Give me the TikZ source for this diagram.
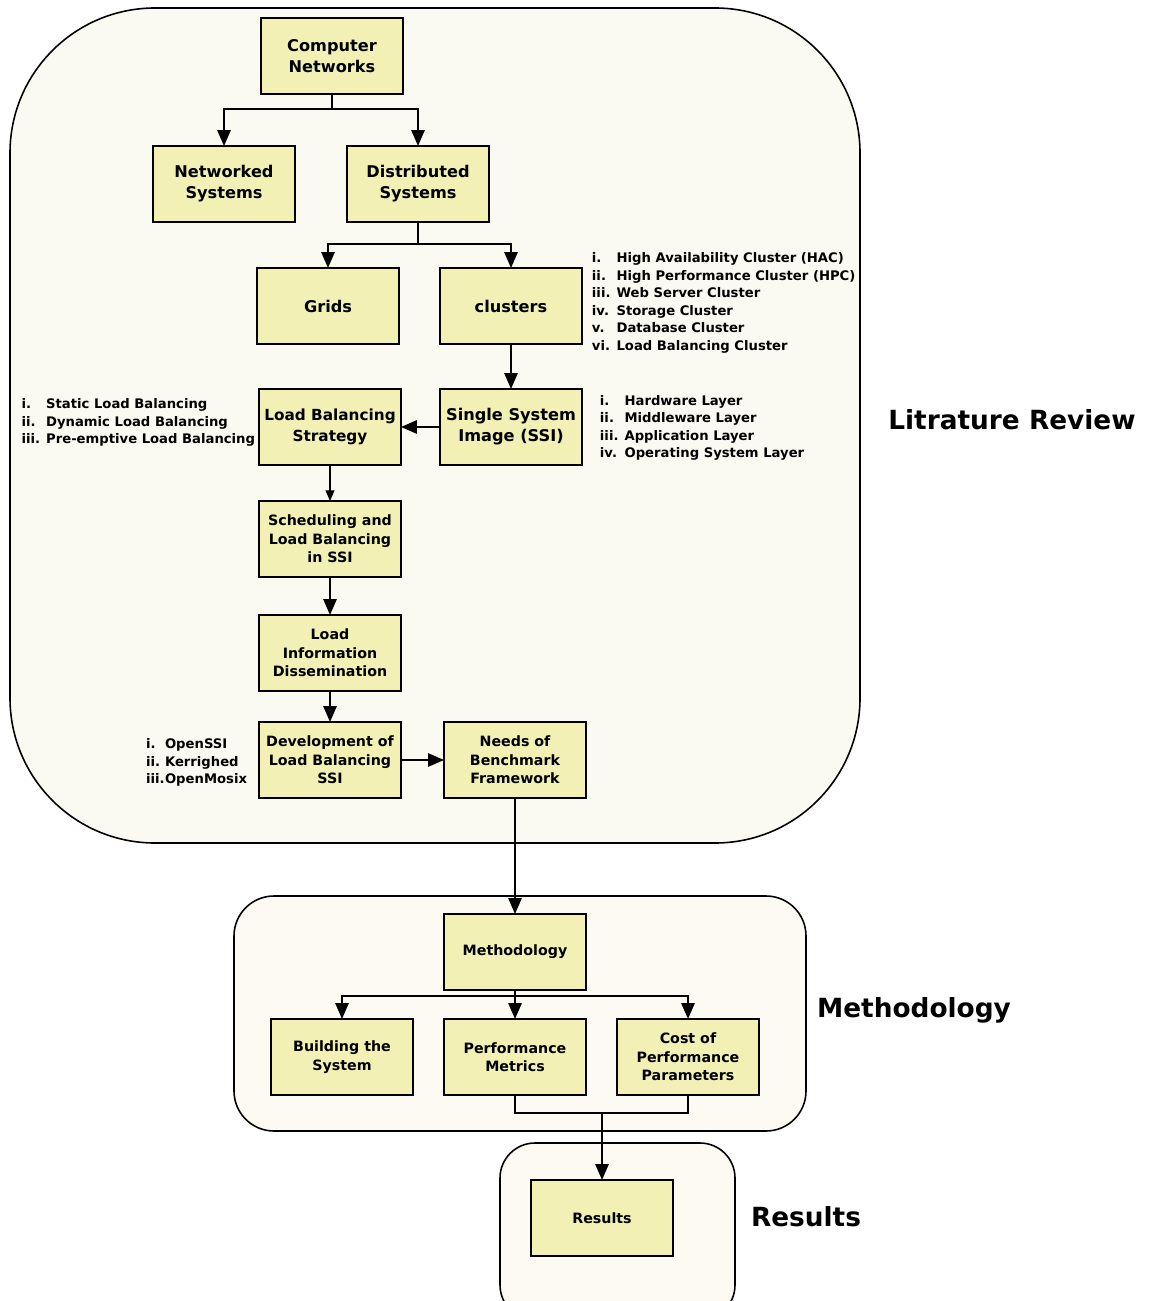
\documentclass[tikz,border=0pt]{standalone}
\usepackage{fontspec}
\setmainfont{DejaVu Sans}
\usetikzlibrary{positioning,arrows.meta}
\definecolor{boxfill}{HTML}{F2F0B4}
\definecolor{areafill}{HTML}{FAFAF2}
\definecolor{areafilltwo}{HTML}{FCFAF2}
\newcommand{\listlbl}[2][14pt]{\makebox[#1][l]{#2}}

\begin{document}
\begin{tikzpicture}[->,>={Triangle[length=9pt,width=7.5pt]},line width=1.1pt,
            main node/.style={rectangle,draw,fill=boxfill,minimum width=2.84cm,minimum height=1.52cm,
              inner sep=0.5pt,outer sep=0pt,align=center,font=\bfseries\fontsize{9.2}{12}\selectfont},
            small node/.style={main node,font=\bfseries\fontsize{8.1}{10.5}\selectfont},
            list node/.style={align=left,inner sep=0pt,font=\bfseries\fontsize{7.5}{10}\selectfont},
            stage node/.style={font=\bfseries\fontsize{15}{18}\selectfont},
            area/.style={-,draw,line width=0.9pt}]

    \useasboundingbox (0,0) rectangle (22.98,-26.02);
    \clip (0,0) rectangle (22.98,-26.02);

    \draw[area,fill=areafill,rounded corners=2.9cm] (0.2,-0.16) rectangle (17.2,-16.86);
    \draw[area,fill=areafilltwo,rounded corners=0.8cm] (4.68,-17.92) rectangle (16.12,-22.62);
    \draw[area,fill=areafilltwo,rounded corners=0.7cm] (10.0,-22.86) rectangle (14.7,-26.4);

    \node[main node] (1) at (6.64,-1.12) {Computer\\Networks};
    \node[main node] (2) [below=1.04cm of 1,xshift=-2.16cm] {Networked\\Systems};
    \node[main node] (3) [right=1.04cm of 2] {Distributed\\Systems};
    \node[main node] (4) [below=0.92cm of 3,xshift=-1.8cm] {Grids};
    \node[main node] (5) [right=0.82cm of 4] {clusters};
    \node[main node] (6) [below=0.9cm of 5] {Single System\\Image (SSI)};
    \node[main node,font=\bfseries\fontsize{8.7}{12}\selectfont] (7) [left=0.78cm of 6] {Load Balancing\\Strategy};
    \node[small node] (8) [below=0.72cm of 7] {Scheduling and\\Load Balancing\\in SSI};
    \node[small node] (9) [below=0.76cm of 8] {Load\\Information\\Dissemination};
    \node[small node] (10) [below=0.62cm of 9] {Development of\\Load Balancing\\SSI};
    \node[small node] (11) [right=0.86cm of 10] {Needs of\\Benchmark\\Framework};
    \node[small node] (12) [below=2.32cm of 11] {Methodology};
    \node[small node] (13) [below=0.58cm of 12] {Performance\\Metrics};
    \node[small node] (14) [left=0.62cm of 13] {Building the\\System};
    \node[small node] (15) [right=0.62cm of 13] {Cost of\\Performance\\Parameters};
    \node[small node] (16) [below=1.7cm of 13,xshift=1.74cm] {Results};

    \node[list node] (17) [right=0.18cm of 5,yshift=0.06cm] {\listlbl{i.}High Availability Cluster (HAC)\\
      \listlbl{ii.}High Performance Cluster (HPC)\\\listlbl{iii.}Web Server Cluster\\
      \listlbl{iv.}Storage Cluster\\\listlbl{v.}Database Cluster\\\listlbl{vi.}Load Balancing Cluster};
    \node[list node] (18) [left=0.06cm of 7,yshift=0.09cm] {\listlbl{i.}Static Load Balancing\\
      \listlbl{ii.}Dynamic Load Balancing\\\listlbl{iii.}Pre-emptive Load Balancing};
    \node[list node] (19) [right=0.34cm of 6,yshift=-0.02cm] {\listlbl{i.}Hardware Layer\\\listlbl{ii.}Middleware Layer\\
      \listlbl{iii.}Application Layer\\\listlbl{iv.}Operating System Layer};
    \node[list node] (20) [left=0.22cm of 10,yshift=-0.05cm] {\listlbl[10.8pt]{i.}OpenSSI\\\listlbl[10.8pt]{ii.}Kerrighed\\
      \listlbl[10.8pt]{iii.}OpenMosix};

    \node[stage node] (21) at (20.24,-8.4) {Litrature Review};
    \node[stage node] (22) at (18.28,-20.2) {Methodology};
    \node[stage node] (23) at (16.12,-24.34) {Results};

    \draw (1.south) -- ++(0,-0.3) coordinate (a) -| (2);
    \draw (a) -| (3);
    \draw (3.south) -- ++(0,-0.44) coordinate (b) -| (4);
    \draw (b) -| (5);
    \path (5) edge (6)
    (6) edge (7)
    (7) edge [line width=0.6pt,-{Triangle[length=6pt,width=5pt]}] (8)
    (8) edge (9)
    (9) edge (10)
    (10) edge (11)
    (11) edge (12)
    (12) edge (13);
    \draw (12.south) -- ++(0,-0.12) coordinate (c) -| (14);
    \draw (c) -| (15);
    \draw[-,line width=0.9pt] (13.south) -- ++(0,-0.36) coordinate (d) -| (15.south);
    \draw (d -| 16.north) -- (16);
\end{tikzpicture}
\end{document}
